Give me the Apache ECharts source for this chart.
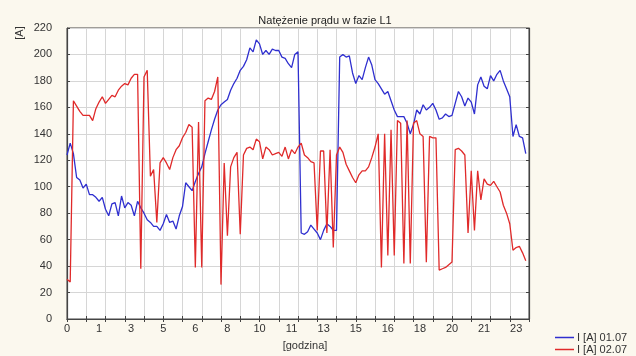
<!DOCTYPE html>
<html>
<head>
<meta charset="utf-8">
<title>Natężenie prądu w fazie L1</title>
<script src="https://cdn.jsdelivr.net/npm/echarts@6/dist/echarts.min.js"></script>
<style>
  html, body { margin: 0; padding: 0; background: #fbf8ee; }
  #chart { width: 636px; height: 356px; }
</style>
</head>
<body>
<div id="chart"></div>
<script>
// Current in phase L1, one sample every 10 minutes (0:00 .. 23:50), axis runs to 24:00
const sampleTimes = Array.from({ length: 145 }, (_, i) => {
  const m = i * 10;
  return Math.floor(m / 60) + ':' + String(m % 60).padStart(2, '0');
});

// STATISTICA labels every 100 min, showing the hour only
const tickLabels = ['0', '1', '3', '5', '6', '8', '10', '11', '13', '15', '16', '18', '20', '21', '23'];

const seriesNames = ['I [A] 01.07', 'I [A] 02.07'];

const current0107 = [
  124, 133, 125, 107, 105, 99, 102, 94, 94, 92,
  89, 92, 83, 78, 87, 88, 78, 93, 84, 88,
  86, 78, 89, 84, 80, 75, 73, 70, 70, 67,
  72, 79, 73, 74, 68, 78, 85, 103, 100, 97,
  104, 110, 115, 125, 134, 143, 151, 158, 162, 164,
  166, 173, 178, 182, 188, 191, 196, 205, 202, 211,
  208, 200, 203, 200, 204, 203, 203, 198, 197, 193,
  190, 200, 202, 65, 64, 66, 71, 68, 65, 60,
  67, 72, 70, 67, 67, 198, 200, 198, 199, 186,
  178, 184, 181, 190, 198, 192, 181, 178, 174, 170,
  172, 165, 158, 153, 153, 153, 148, 140, 147, 158,
  155, 162, 158, 160, 163, 158, 151, 152, 155, 153,
  154, 163, 172, 168, 161, 167, 164, 155, 177, 183,
  176, 174, 184, 180, 185, 188, 180, 174, 168, 138,
  147, 138, 137, 125
];

const current0207 = [
  30, 28, 165, 161, 157, 154, 154, 154, 150, 159,
  164, 168, 163, 166, 169, 168, 173, 176, 178, 177,
  182, 185, 185, 38, 183, 188, 108, 113, 73, 118,
  122, 118, 113, 122, 128, 131, 137, 141, 147, 145,
  39, 149, 39, 165, 167, 166, 172, 183, 26, 118,
  63, 115, 122, 126, 64, 124, 129, 130, 128, 136,
  134, 121, 130, 128, 124, 125, 126, 123, 130, 121,
  128, 125, 130, 133, 124, 122, 119, 118, 67, 127,
  127, 65, 128, 54, 124, 130, 126, 117, 112, 107,
  103, 109, 112, 112, 115, 122, 130, 140, 39, 140,
  48, 143, 48, 150, 148, 42, 150, 42, 148, 150,
  140, 138, 43, 138, 137, 137, 37, 38, 39, 41,
  43, 128, 129, 127, 124, 65, 112, 67, 112, 90,
  106, 102, 101, 104, 100, 96, 86, 80, 72, 52,
  54, 55, 50, 44
];

const font = 'Liberation Sans, Arial, sans-serif';
const axisColor = '#444';
const gridColor = '#d6d6d6';

const chart = echarts.init(document.getElementById('chart'), null, { renderer: 'canvas' });

const xCommon = {
  type: 'category',
  data: sampleTimes,
  boundaryGap: false,
  axisLine: { show: true, lineStyle: { color: axisColor, width: 1.2 } },
  axisTick: { show: true, inside: true, length: 3, interval: 5, lineStyle: { color: axisColor } }
};

const yCommon = {
  type: 'value',
  min: 0,
  max: 220,
  interval: 20,
  axisLine: { show: true, lineStyle: { color: axisColor, width: 1.2 } },
  axisTick: { show: true, inside: true, length: 3, lineStyle: { color: axisColor } }
};

const legendCommon = {
  left: 550,
  icon: 'rect', itemWidth: 19, itemHeight: 1.5, itemGap: 0,
  textStyle: { fontFamily: font, fontSize: 11, color: '#333', padding: [0, 0, 0, -2] }
};

const option = {
  animation: false,
  backgroundColor: '#fbf8ee',
  title: {
    text: 'Natężenie prądu w fazie L1',
    left: 320,
    textAlign: 'center',
    top: 10,
    textStyle: { fontFamily: font, fontSize: 11, fontWeight: 'normal', color: '#222' }
  },
  legend: [
    Object.assign({ data: [seriesNames[0]], top: 327 }, legendCommon),
    Object.assign({ data: [seriesNames[1]], top: 339 }, legendCommon)
  ],
  grid: {
    left: 67, right: 107, top: 28, bottom: 34,
    show: true, backgroundColor: '#fff', borderColor: axisColor, borderWidth: 1
  },
  xAxis: [
    Object.assign({}, xCommon, {
      position: 'bottom',
      name: '[godzina]',
      nameLocation: 'middle',
      nameGap: 21,
      nameTextStyle: { fontFamily: font, fontSize: 11, color: '#333', padding: [0, 0, 0, 14] },
      axisLabel: {
        interval: 9,
        margin: 4,
        fontFamily: font, fontSize: 11, color: '#333',
        formatter: (v, i) => tickLabels[i / 10]
      },
      splitLine: { show: true, interval: 5, lineStyle: { color: gridColor, width: 1 } }
    }),
    Object.assign({}, xCommon, {
      position: 'top',
      axisLabel: { show: false },
      splitLine: { show: false }
    })
  ],
  yAxis: [
    Object.assign({}, yCommon, {
      position: 'left',
      axisLabel: { margin: 15, fontFamily: font, fontSize: 11, color: '#333' },
      splitLine: { show: true, lineStyle: { color: gridColor, width: 1 } }
    }),
    Object.assign({}, yCommon, {
      position: 'right',
      axisLabel: { show: false },
      splitLine: { show: false }
    })
  ],
  graphic: [
    {
      type: 'text',
      x: 20, y: 33,
      rotation: Math.PI / 2,
      style: {
        text: '[A]',
        font: '11px ' + font,
        fill: '#333',
        textAlign: 'center',
        textVerticalAlign: 'middle'
      }
    }
  ],
  series: [
    {
      name: seriesNames[0],
      type: 'line',
      data: current0107,
      showSymbol: false,
      symbol: 'none',
      color: '#2f2fcf',
      lineStyle: { width: 1.3, color: '#2f2fcf' },
      z: 2
    },
    {
      name: seriesNames[1],
      type: 'line',
      data: current0207,
      showSymbol: false,
      symbol: 'none',
      color: '#e02a2a',
      lineStyle: { width: 1.3, color: '#e02a2a' },
      z: 3
    }
  ]
};

chart.setOption(option);
</script>
</body>
</html>
